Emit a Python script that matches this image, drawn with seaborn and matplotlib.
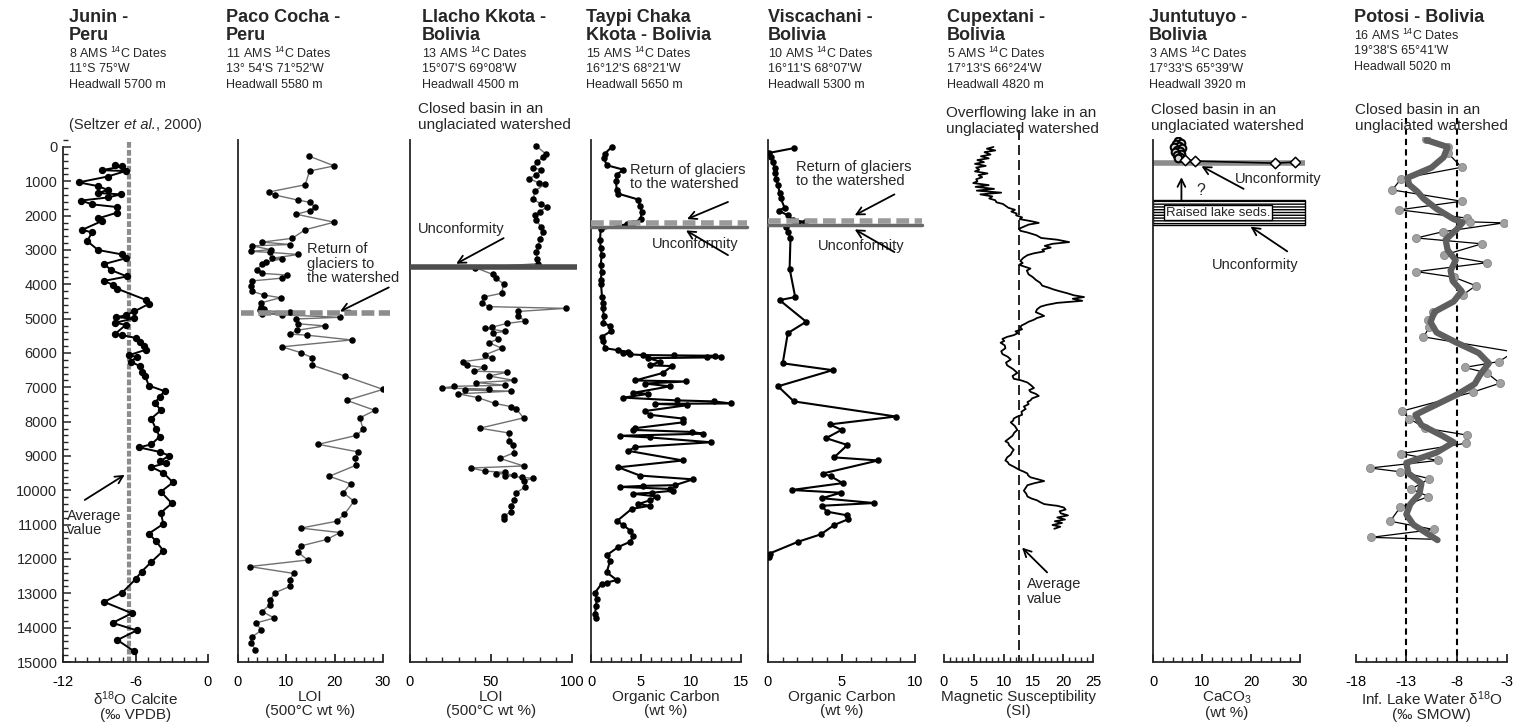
import matplotlib
matplotlib.use("Agg")
import matplotlib.pyplot as plt
from matplotlib.ticker import MultipleLocator, FixedLocator
from matplotlib.patches import Rectangle
import seaborn as sns

# ---------------------------------------------------------------- data
# each record: (age in cal yr BP, measured value)
JUNIN = [(530,-7.7),(565,-7.1),(675,-8.8),(700,-6.8),(860,-8.3),(1030,-10.7),(1140,-9.1),
         (1250,-8.3),(1340,-9.1),(1380,-7.2),(1470,-8.3),(1560,-10.5),(1670,-9.6),(1750,-7.5),
         (1910,-7.5),(2080,-9.1),(2160,-8.8),(2410,-10.4),(2490,-9.6),(2740,-10.0),(3000,-9.1),
         (3130,-7.1),(3240,-6.8),(3410,-8.6),(3590,-8.0),(3770,-6.7),(3900,-8.6),(4010,-7.9),
         (4130,-7.5),(4460,-5.1),(4570,-4.9),(4790,-6.1),(4900,-6.8),(4960,-7.6),(4990,-6.1),
         (5120,-7.7),(5180,-6.8),(5450,-7.7),(5480,-7.1),(5560,-6.0),(5670,-5.6),(5790,-5.3),
         (5900,-5.1),(6060,-6.5),(6120,-5.9),(6250,-6.4),(6390,-5.6),(6560,-5.5),(6670,-5.2),
         (6950,-4.9),(7110,-3.6),(7280,-4.0),(7450,-4.4),(7670,-3.9),(7910,-4.7),(8220,-4.3),
         (8440,-4.0),(8660,-4.7),(8750,-5.7),(8880,-4.0),(8990,-3.2),(9160,-4.0),(9210,-3.5),
         (9320,-4.7),(9490,-3.7),(9770,-2.9),(10040,-3.9),(10380,-3.0),(10650,-3.9),(10980,-3.7),
         (11260,-4.9),(11480,-4.3),(11760,-3.7),(12090,-4.7),(12370,-5.5),(12590,-6.0),
         (12980,-7.1),(13250,-8.6),(13580,-6.3),(13860,-7.9),(14080,-5.9),(14360,-7.5),(14690,-6.1)]
JUNIN_MEAN = -6.5

PACO = [(260,14.6),(550,19.9),(700,14.8),(1100,13.9),(1310,6.4),(1400,7.7),(1550,12.5),(1610,14.9),
        (1750,15.9),(1850,14.9),(1960,12.1),(2190,19.9),(2410,13.9),(2660,11.2),(2770,5.0),(2840,10.8),
        (2880,2.9),(2990,6.8),(3040,2.6),(3070,6.7),(3130,12.5),(3240,7.1),(3260,9.1),(3350,5.7),
        (3400,5.0),(3570,4.0),(3680,5.0),(3730,10.1),(3820,9.1),(3900,2.9),(4040,2.6),(4200,2.9),
        (4310,5.3),(4390,8.8),(4540,4.7),(4650,4.7),(4720,5.3),(4760,4.5),(4810,10.8),(4850,5.0),
        (4890,9.1),(4960,21.1),(5010,11.9),(5150,12.5),(5210,18.0),(5340,12.2),(5450,10.8),(5480,14.2),
        (5620,23.5),(5820,9.1),(5990,13.0),(6140,15.4),(6360,15.4),(6670,22.1),(7060,30.0),(7380,22.5),
        (7670,28.3),(7890,25.2),(8220,25.9),(8400,24.5),(8660,16.6),(8880,24.8),(9070,24.2),(9270,24.4),
        (9590,18.9),(9810,23.3),(10070,21.8),(10320,24.0),(10700,22.0),(10900,20.4),(11100,13.0),
        (11230,21.1),(11430,18.4),(11620,13.0),(11810,12.5),(12030,14.4),(12220,2.4),(12420,11.5),
        (12610,10.7),(12800,10.7),(12980,7.7),(13200,6.6),(13330,6.6),(13530,5.0),(13720,7.5),
        (13860,3.8),(14080,4.8),(14270,2.9),(14440,2.6),(14640,3.6)]
PACO_GLACIER = 4840

LLACHO = [(-30,78),(210,84),(300,81.9),(440,78.4),(610,76),(660,81),(810,78),(920,73.5),(1050,79.8),
          (1070,83.6),(1290,76.9),(1520,76.2),(1660,80.7),(1740,84.7),(1880,80.2),(1990,76.9),
          (2130,78),(2320,80.7),(2490,82),(2690,80.2),(2880,79.1),(3070,78),(3270,78.4),(3400,79.1),
          (3510,40.2),(3710,51),(3820,52.8),(3980,57.8),(4260,56.6),(4370,45.4),(4540,44.3),
          (4650,48.7),(4700,96),(4790,66.7),(4920,66.7),(5070,71.2),(5140,59.6),(5250,50.6),
          (5280,46.5),(5370,58.9),(5420,51),(5590,54.4),(5700,48.8),(5860,56.6),(6050,46.5),
          (6140,50.6),(6250,33),(6360,35.2),(6420,45.4),(6530,39.8),(6560,60),(6670,48.8),
          (6800,64.5),(6860,40.9),(6940,58.9),(6970,27.4),(7020,19.6),(7050,48.8),(7080,34.2),
          (7110,62.2),(7190,29.7),(7300,42),(7470,52.4),(7560,62.2),(7630,65.6),(7890,70.1),
          (8190,43.1),(8330,61.1),(8550,61.1),(8680,63.4),(8900,64.5),(9070,55.5),(9290,70.1),
          (9350,37.6),(9440,46.5),(9480,58.9),(9510,53.3),(9550,64.5),(9570,58.4),(9620,69),
          (9650,75.7),(9730,70.1),(9900,71.2),(10070,65.6),(10290,64.5),(10450,62.2),(10620,62.2),
          (10760,57.8),(10840,57.8)]
LLACHO_GAP = 3500

TAYPI = [(0,2.07),(190,1.4),(330,1.3),(530,1.57),(660,3.23),(810,2.57),(1000,2.5),(1250,2.57),
         (1360,2.73),(1530,4.73),(1710,4.9),(1880,5.07),(2100,4.97),(2210,4.23),(2250,3.57),
         (2400,0.97),(2710,0.9),(2930,0.97),(3150,1.07),(3430,0.97),(3650,1.07),(3870,0.97),
         (3980,1.0),(4370,1.1),(4540,1.23),(4700,1.17),(4920,1.3),(5140,1.23),(5200,1.9),(5370,1.97),
         (5530,1.07),(5640,1.23),(5860,1.4),(5920,2.73),(5970,3.73),(6010,3.23),(6040,3.9),
         (6060,5.2),(6070,8.3),(6080,12.4),(6120,13.0),(6130,11.6),(6150,5.7),(6250,6.9),(6360,5.9),
         (6380,8.1),(6580,7.2),(6800,4.4),(6830,9.5),(6890,5.4),(6970,7.9),(7160,4.23),(7190,5.73),
         (7300,3.23),(7380,8.57),(7410,12.3),(7470,14.0),(7480,6.4),(7520,9.63),(7690,5.4),
         (7800,5.9),(7910,9.2),(8020,9.2),(8190,4.4),(8240,4.23),(8300,10.1),(8350,11.2),(8410,2.9),
         (8460,5.9),(8600,12.0),(8740,4.4),(8850,3.73),(9130,9.2),(9330,2.73),(9570,4.9),(9680,10.2),
         (9850,8.4),(9870,5.23),(9900,2.9),(9960,7.9),(10010,8.2),(10070,6.07),(10100,4.23),
         (10180,6.6),(10290,5.9),(10400,4.73),(10450,5.9),(10540,4.07),(10900,2.57),(11010,3.23),
         (11170,3.9),(11340,4.23),(11500,3.9),(11650,2.73),(11890,1.57),(12060,1.9),(12390,1.57),
         (12610,2.57),(12690,1.57),(12720,1.07),(12980,0.4),(13160,0.57),(13380,0.5),(13610,0.4),
         (13720,0.5)]
TAYPI_GLACIER, TAYPI_GAP = 2220, 2340

VISCA = [(30,1.8),(170,0.1),(280,0.23),(440,0.34),(610,0.45),(770,0.5),(940,0.56),(1110,0.68),
         (1330,0.79),(1490,0.86),(1770,1.13),(1850,0.72),(1990,1.35),(2130,1.7),(2180,2.5),
         (2320,1.24),(2470,1.35),(2650,1.53),(3540,1.47),(4370,1.85),(4460,0.79),(5090,2.6),
         (5420,1.35),(6300,1.0),(6500,4.4),(6970,0.68),(7410,1.76),(7850,8.7),(8080,4.2),
         (8240,5.0),(8480,3.95),(8680,5.4),(9040,4.5),(9130,7.5),(9510,3.72),(9590,4.26),
         (9790,5.08),(9990,1.6),(10070,4.97),(10230,3.66),(10370,7.23),(10450,3.66),(10620,4.0),
         (10730,5.4),(10840,5.46),(11010,4.5),(11280,3.6),(11500,2.03),(11840,0.11),(11950,0.05)]
VISCA_GLACIER, VISCA_GAP = 2150, 2270

CUPEX = [(0,8.3),(50,7.2),(100,8.6),(150,6.8),(220,7.8),(270,6.2),(330,7.5),(380,5.6),(440,6.7),
         (490,5.2),(550,7.0),(600,5.4),(660,5.9),(710,5.2),(770,7.3),(820,5.8),(880,6.4),(940,5.4),
         (1000,5.6),(1050,4.9),(1110,7.5),(1160,5.3),(1220,8.4),(1270,5.5),(1330,9.6),(1380,6.1),
         (1440,8.1),(1500,7.6),(1550,8.6),(1610,8.8),(1660,9.9),(1720,10.4),(1770,10.8),(1830,11.9),
         (1880,11.3),(1940,12.2),(1990,12.1),(2050,13.1),(2100,12.7),(2160,14.6),(2210,15.9),
         (2260,14.2),(2320,13.4),(2380,12.6),(2440,12.8),(2490,14.0),(2570,15.5),(2650,16.3),
         (2700,19.0),(2770,21.0),(2820,18.2),(2880,16.9),(2930,17.9),(2990,16.5),(3040,16.8),
         (3100,15.0),(3150,14.0),(3230,13.3),(3320,12.8),(3380,13.2),(3430,12.6),(3490,13.6),
         (3540,14.5),(3600,13.9),(3710,14.2),(3790,14.9),(3870,15.4),(3950,16.1),(4040,16.5),
         (4100,17.6),(4150,18.4),(4210,19.6),(4260,20.7),(4320,21.8),(4370,23.5),(4420,21.6),
         (4480,23.2),(4540,19.0),(4600,17.2),(4650,16.2),(4730,15.6),(4810,15.4),(4870,16.2),
         (4920,16.8),(4980,15.6),(5030,15.1),(5090,14.2),(5140,13.7),(5200,13.0),(5250,12.8),
         (5310,13.1),(5370,12.0),(5420,12.4),(5480,11.7),(5530,10.6),(5590,9.8),(5650,10.1),
         (5700,9.5),(5780,10.2),(5860,10.3),(5950,9.6),(6030,9.8),(6110,10.7),(6190,11.2),
         (6280,10.4),(6360,10.6),(6470,11.6),(6580,12.3),(6670,11.5),(6750,11.7),(6800,13.0),
         (6860,14.0),(6940,14.6),(7020,15.1),(7080,14.3),(7130,14.5),(7190,15.4),(7250,15.9),
         (7320,14.8),(7380,14.5),(7430,14.0),(7490,14.2),(7560,13.4),(7630,13.7),(7710,13.0),
         (7800,13.1),(7860,12.2),(7910,11.7),(7970,11.6),(8020,11.2),(8130,11.9),(8240,12.3),
         (8320,11.8),(8410,11.5),(8490,10.9),(8570,10.3),(8620,10.8),(8680,10.9),(8750,11.3),
         (8820,11.7),(8890,11.4),(8960,11.2),(9040,10.6),(9130,10.3),(9180,10.7),(9240,10.9),
         (9320,11.8),(9400,12.6),(9450,13.3),(9510,14.0),(9560,14.1),(9620,14.5),(9680,15.8),
         (9730,16.8),(9790,15.2),(9850,14.0),(9930,13.7),(10010,13.4),(10100,13.8),(10180,14.0),
         (10240,14.7),(10290,15.6),(10350,16.2),(10400,16.8),(10430,18.0),(10450,19.0),(10500,20.1),
         (10560,20.4),(10610,19.4),(10670,19.6),(10730,20.8),(10790,19.0),(10850,20.3),(10900,18.6),
         (10950,19.8),(11010,18.2),(11060,19.5),(11120,18.5)]
CUPEX_MEAN = 12.5

JUNTU_UPPER = [(-170,5.0),(-120,5.7),(-90,4.6),(-40,5.4),(0,4.3),(40,5.9),(80,4.8),(120,5.5),
               (160,4.4),(200,5.8),(240,4.9),(290,5.6),(330,5.1)]
JUNTU_LOWER = [(365,6.5),(410,8.6),(470,24.8),(440,28.9)]
JUNTU_GAP = 470
JUNTU_RAISED = (1550, 2270)

POTOSI = [(-220,-11.0),(0,-8.9),(170,-8.9),(590,-7.5),(920,-13.5),(1250,-14.4),(1580,-7.5),
          (1830,-13.7),(2070,-7.0),(2180,-6.7),(2210,-3.3),(2470,-9.4),(2650,-12.0),(2820,-5.5),
          (3150,-9.3),(3370,-5.0),(3630,-12.0),(3790,-8.3),(4040,-6.1),(4310,-7.4),(4810,-10.4),
          (5030,-10.8),(5250,-10.7),(5530,-11.3),(5970,-2.3),(6250,-3.8),(6420,-7.2),(6580,-5.0),
          (6880,-3.7),(7140,-6.4),(7690,-13.4),(7910,-12.7),(8190,-11.1),(8390,-7.0),(8630,-7.1),
          (8930,-13.5),(9130,-9.9),(9350,-16.6),(9460,-13.6),(9660,-10.7),(9960,-12.5),(10180,-10.8),
          (10490,-13.6),(10900,-14.6),(11140,-10.3),(11370,-16.5)]
POTOSI_END = (11430, -9.7)
POTOSI_SMOOTH = [(-200,-11.0),(0,-8.9),(300,-9.3),(600,-10.5),(900,-12.9),(1100,-12.7),(1300,-11.9),
                 (1500,-11.3),(1800,-10.0),(2100,-8.3),(2200,-7.4),(2400,-8.0),(2700,-9.1),(3000,-8.9),
                 (3300,-8.1),(3600,-8.6),(3900,-8.4),(4200,-7.5),(4500,-8.3),(4800,-10.2),(5100,-10.6),
                 (5400,-10.0),(5700,-8.0),(6000,-5.8),(6300,-4.8),(6600,-5.6),(6900,-6.2),(7200,-7.9),
                 (7500,-10.0),(7800,-12.1),(8100,-11.5),(8400,-9.5),(8600,-8.3),(8900,-10.0),(9200,-13.0),
                 (9500,-12.8),(9800,-11.5),(10100,-11.7),(10400,-12.6),(10700,-13.0),(11000,-12.3),
                 (11450,-9.9)]
POTOSI_BOUNDS = (-13, -8)

TITLES = ["Junin -\nPeru", "Paco Cocha -\nPeru", "Llacho Kkota -\nBolivia", "Taypi Chaka\nKkota - Bolivia",
          "Viscachani -\nBolivia", "Cupextani -\nBolivia", "Juntutuyo -\nBolivia", "Potosi - Bolivia"]
DATES = ["8 AMS $^{14}$C Dates", "11 AMS $^{14}$C Dates", "13 AMS $^{14}$C Dates", "15 AMS $^{14}$C Dates",
         "10 AMS $^{14}$C Dates", "5 AMS $^{14}$C Dates", "3 AMS $^{14}$C Dates", "16 AMS $^{14}$C Dates"]
COORDS = ["11°S 75°W", "13° 54'S 71°52'W", "15°07'S 69°08'W", "16°12'S 68°21'W",
          "16°11'S 68°07'W", "17°13'S 66°24'W", "17°33'S 65°39'W", "19°38'S 65°41'W"]
HEADWALLS = ["Headwall 5700 m", "Headwall 5580 m", "Headwall 4500 m", "Headwall 5650 m",
             "Headwall 5300 m", "Headwall 4820 m", "Headwall 3920 m", "Headwall 5020 m"]
XLABELS = ["δ$^{18}$O Calcite\n(‰ VPDB)", "LOI\n(500°C wt %)", "LOI\n(500°C wt %)",
           "Organic Carbon\n(wt %)", "Organic Carbon\n(wt %)", "Magnetic Susceptibility\n(SI)",
           "CaCO$_3$\n(wt %)", "Inf. Lake Water δ$^{18}$O\n(‰ SMOW)"]
XTICKS = [[-12, -6, 0], [0, 10, 20, 30], [0, 50, 100], [0, 5, 10, 15], [0, 5, 10],
          [0, 5, 10, 15, 20, 25], [0, 10, 20, 30], [-18, -13, -8, -3]]
XMINOR = [1, 2, 10, 1, 1, 1, 2, 1]
AGE_TICKS = list(range(0, 15001, 1000))

# ---------------------------------------------------------------- style
sns.set_style("ticks")
plt.rcParams["font.family"] = ["Liberation Sans", "DejaVu Sans"]
plt.rcParams["mathtext.fontset"] = "custom"
plt.rcParams["mathtext.rm"] = "Liberation Sans"
plt.rcParams["mathtext.it"] = "Liberation Sans:italic"
plt.rcParams["mathtext.bf"] = "Liberation Sans:bold"
plt.rcParams["axes.unicode_minus"] = False
plt.rcParams["hatch.linewidth"] = 1.0

W, HP = 1517, 724
fig = plt.figure(figsize=(W / 100, HP / 100), dpi=100)

AGE_TOP = -300
def ypix(age):
    return 147 + age * 515 / 15000

BOT = 1 - 662 / HP
TOP = 1 - ypix(AGE_TOP) / HP

# pixel extents of the eight panels (left edge, right edge)
EXTENTS = [(63, 208), (238, 383), (410, 572), (591, 741), (768, 915), (944, 1093), (1153, 1300), (1356, 1507)]
LEFT_SPINE = [True, True, True, True, True, False, True, False]

def ftext(x, y, s, **kw):
    return fig.text(x / W, 1 - y / HP, s, **kw)

def split(rec):
    return [r[1] for r in rec], [r[0] for r in rec]

def arrow(ax, start, end):
    ax.annotate("", xy=end, xytext=start, annotation_clip=False,
                arrowprops=dict(arrowstyle="->,head_length=0.55,head_width=0.28",
                                color="black", lw=1.3, shrinkA=0, shrinkB=0))

def label(ax, x, y, s, **kw):
    kw.setdefault("fontsize", 10.5)
    kw.setdefault("ha", "left")
    kw.setdefault("va", "center")
    ax.text(x, y, s, linespacing=1.05, clip_on=False, **kw)

axes = []
for i, (x0, x1) in enumerate(EXTENTS):
    ax = fig.add_axes([x0 / W, BOT, (x1 - x0) / W, TOP - BOT])
    ax.set_facecolor("none")
    ax.set_xlim(XTICKS[i][0], XTICKS[i][-1])
    ax.set_ylim(15000, AGE_TOP)
    ax.xaxis.set_major_locator(FixedLocator(XTICKS[i]))
    ax.xaxis.set_minor_locator(MultipleLocator(XMINOR[i]))
    ax.set_xticklabels([str(t) for t in XTICKS[i]])
    ax.tick_params(axis="x", which="major", direction="in", length=6, width=1.1,
                   labelsize=10.5, pad=9, colors="black")
    ax.tick_params(axis="x", which="minor", direction="in", length=3.5, width=1.0)
    for s in ("top", "right"):
        ax.spines[s].set_visible(False)
    ax.spines["bottom"].set_linewidth(1.3)
    ax.spines["left"].set_linewidth(1.3)
    ax.spines["left"].set_visible(LEFT_SPINE[i])
    ax.spines["left"].set_bounds(-200, 15000)
    if i == 0:
        ax.yaxis.set_major_locator(FixedLocator(AGE_TICKS))
        ax.yaxis.set_minor_locator(MultipleLocator(200))
        ax.set_yticklabels([str(t) for t in AGE_TICKS])
        ax.tick_params(axis="y", which="major", direction="in", length=6, width=1.1, labelsize=10.5, pad=4)
        ax.tick_params(axis="y", which="minor", direction="in", length=3.5, width=1.0)
        ax.spines["left"].set_bounds(0, 15000)
    else:
        ax.set_yticks([])
    axes.append(ax)

def dots_and_line(ax, rec, line_color, lw, size=22):
    x, y = split(rec)
    sns.lineplot(x=x, y=y, sort=False, estimator=None, color=line_color, lw=lw, ax=ax, zorder=2)
    sns.scatterplot(x=x, y=y, color="black", s=size, linewidth=0, ax=ax, zorder=3)

# 1 Junin
ax = axes[0]
ax.plot([JUNIN_MEAN, JUNIN_MEAN], [-150, 15000], color="#8c8c8c", lw=3, dashes=(1.4, 0.5), zorder=1)
dots_and_line(ax, JUNIN, "black", 1.4, size=28)
label(ax, -11.7, 10950, "Average\nvalue")
arrow(ax, (-10.2, 10280), (-6.9, 9550))

# 2 Paco Cocha
ax = axes[1]
dots_and_line(ax, PACO, "#707070", 1.0)
ax.plot([0.6, 31.5], [PACO_GLACIER] * 2, color="#8c8c8c", lw=4, dashes=(2.3, 0.8), clip_on=False, zorder=4)
label(ax, 14.2, 3400, "Return of\nglaciers to\nthe watershed")
arrow(ax, (31.2, 4090), (21.1, 4790))

# 3 Llacho Kkota
ax = axes[2]
dots_and_line(ax, LLACHO, "#707070", 1.0)
ax.plot([0, 103], [LLACHO_GAP] * 2, color="#4d4d4d", lw=4, solid_capstyle="butt", clip_on=False, zorder=4)
label(ax, 5, 2400, "Unconformity")
arrow(ax, (57.8, 2655), (28.5, 3400))

# 4 Taypi Chaka Kkota
ax = axes[3]
dots_and_line(ax, TAYPI, "black", 1.5)
ax.plot([0, 15.6], [TAYPI_GAP] * 2, color="#6a6a6a", lw=2.5, clip_on=False, zorder=4)
ax.plot([0, 15.6], [TAYPI_GLACIER] * 2, color="#9a9a9a", lw=4, dashes=(2.3, 1.0), clip_on=False, zorder=4)
label(ax, 3.9, 875, "Return of glaciers\nto the watershed")
arrow(ax, (13.7, 1600), (9.6, 2100))
label(ax, 6.1, 2820, "Unconformity")
arrow(ax, (13.7, 3150), (9.5, 2430))

# 5 Viscachani
ax = axes[4]
dots_and_line(ax, VISCA, "black", 1.5)
ax.plot([0, 10.5], [VISCA_GAP] * 2, color="#6a6a6a", lw=2.5, clip_on=False, zorder=4)
ax.plot([0, 10.5], [VISCA_GLACIER] * 2, color="#9a9a9a", lw=4, dashes=(2.3, 1.0), clip_on=False, zorder=4)
label(ax, 1.9, 785, "Return of glaciers\nto the watershed")
arrow(ax, (8.6, 1380), (5.9, 1990))
label(ax, 3.4, 2880, "Unconformity")
arrow(ax, (8.6, 3060), (5.9, 2400))

# 6 Cupextani
ax = axes[5]
ax.plot([CUPEX_MEAN, CUPEX_MEAN], [-500, 15000], color="black", lw=1.2, dashes=(6, 3), clip_on=False, zorder=1)
cx, cy = split(CUPEX)
sns.lineplot(x=cx, y=cy, sort=False, estimator=None, color="black", lw=1.3, ax=ax, zorder=2)
label(ax, 14.0, 12950, "Average\nvalue")
arrow(ax, (17.3, 12390), (13.1, 11670))

# 7 Juntutuyo
ax = axes[6]
ax.plot([0, 31], [JUNTU_GAP] * 2, color="#8c8c8c", lw=4, solid_capstyle="butt", clip_on=False, zorder=1)
ux, uy = split(JUNTU_UPPER)
lx, ly = split(JUNTU_LOWER)
sns.lineplot(x=ux + lx, y=uy + ly, sort=False, estimator=None, color="black", lw=1.2, ax=ax, zorder=2)
sns.scatterplot(x=ux, y=uy, marker="o", s=30, color="#d8d8d8", edgecolor="black", linewidth=1.5, ax=ax, zorder=3)
sns.scatterplot(x=lx, y=ly, marker="D", s=28, color="white", edgecolor="black", linewidth=1.1, ax=ax, zorder=3)
ax.add_patch(Rectangle((0, JUNTU_RAISED[0]), 31, JUNTU_RAISED[1] - JUNTU_RAISED[0], facecolor="white",
                       edgecolor="black", lw=1.0, hatch="------", clip_on=False, zorder=2))
ax.text(13.3, (JUNTU_RAISED[0] + JUNTU_RAISED[1]) / 2, "Raised lake seds.", fontsize=9.5, ha="center",
        va="center", zorder=5, bbox=dict(boxstyle="square,pad=0.12", fc="white", ec="black", lw=1.0))
arrow(ax, (5.8, JUNTU_RAISED[0]), (5.8, 880))
label(ax, 8.8, 1270, "?", fontsize=11.5)
label(ax, 16.8, 940, "Unconformity")
arrow(ax, (18.5, 1220), (9.9, 560))
label(ax, 12.0, 3430, "Unconformity")
arrow(ax, (27.4, 3040), (19.9, 2320))

# 8 Potosi
ax = axes[7]
for b in POTOSI_BOUNDS:
    ax.plot([b, b], [-850, 15000], color="black", lw=1.5, dashes=(3, 2), clip_on=False, zorder=1)
px, py = split(POTOSI)
sns.lineplot(x=px + [POTOSI_END[1]], y=py + [POTOSI_END[0]], sort=False, estimator=None,
             color="black", lw=0.9, ax=ax, zorder=2)
sns.scatterplot(x=px, y=py, color="#a0a0a0", s=34, edgecolor="#888888", linewidth=0.6, ax=ax, zorder=3)
sx, sy = split(POTOSI_SMOOTH)
sns.lineplot(x=sx, y=sy, sort=False, estimator=None, color="#5f5f5f", lw=4.5, ax=ax, zorder=4)

for i, ax in enumerate(axes):
    ax.set_xlabel(XLABELS[i], fontsize=11, labelpad=1, linespacing=1.0)
    ax.set_ylabel("")

# ---------------------------------------------------------------- headers
TITLE_X = [69, 226, 422, 586, 768, 947, 1149, 1354]
for i in range(8):
    lines = TITLES[i].split("\n")
    y0 = 17
    for j, ln in enumerate(lines):
        ftext(TITLE_X[i], y0 + 18 * j, ln, fontsize=13, fontweight="bold", va="center", ha="left")
    ys = y0 + 18 * len(lines)
    for j, ln in enumerate([DATES[i], COORDS[i], HEADWALLS[i]]):
        ftext(TITLE_X[i], ys + 16 * j, ln, fontsize=9, va="center", ha="left")

# citation line with an italic "et al."
renderer = fig.canvas.get_renderer()
cx0 = 69
for part, style in (("(Seltzer ", "normal"), ("et al.", "italic"), (", 2000)", "normal")):
    t = ftext(cx0, 125, part, fontsize=10.5, va="center", ha="left", style=style)
    cx0 += t.get_window_extent(renderer).width

ftext(418, 117, "Closed basin in an\nunglaciated watershed", fontsize=11, va="center", linespacing=1.1)
ftext(946, 121, "Overflowing lake in an\nunglaciated watershed", fontsize=11, va="center", linespacing=1.1)
ftext(1151, 118, "Closed basin in an\nunglaciated watershed", fontsize=11, va="center", linespacing=1.1)
ftext(1355, 118, "Closed basin in an\nunglaciated watershed", fontsize=11, va="center", linespacing=1.1)

fig.savefig("out.png", dpi=100, facecolor="white")
